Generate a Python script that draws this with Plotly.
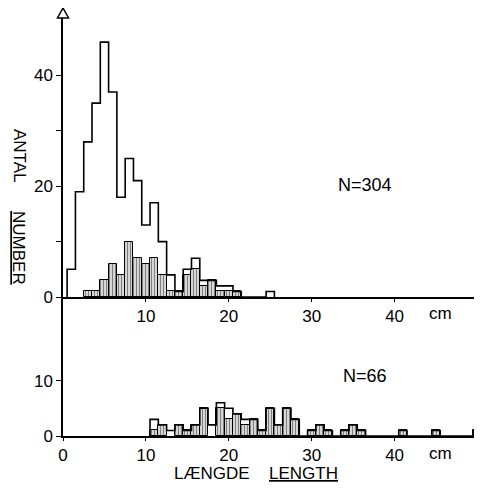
import plotly.graph_objects as go

# ---- data (bins centred on whole cm) ----
top_bins = list(range(1, 26))
top_total = [5, 19, 28, 35, 46, 37, 18, 25, 21, 13, 17, 10, 4, 1, 5, 7, 3, 3, 2, 2, 1, 0, 0, 0, 1]
top_hatched = [0, 0, 1, 1, 3, 6, 4, 10, 7, 6, 7, 4, 1, 1, 4, 5, 2, 3, 1, 1, 1, 0, 0, 0, 0]

bottom_bins = list(range(11, 51))
bottom_total = [3, 2, 1, 2, 1, 2, 5, 2, 6, 5,
                4, 3, 3, 1, 5, 2, 5, 3, 0, 1,
                2, 1, 0, 1, 2, 1, 0, 0, 0, 0,
                1, 0, 0, 0, 1, 0, 0, 0, 0, 1]
bottom_hatched = [1, 2, 0, 2, 1, 2, 5, 0, 5, 3,
                  4, 2, 3, 1, 5, 2, 5, 3, 0, 1,
                  2, 1, 0, 1, 2, 1, 0, 0, 0, 0,
                  1, 0, 0, 0, 1, 0, 0, 0, 0, 1]

top_yticks = [0, 10, 20, 30, 40]
top_yticktext = ["0", "", "20", "", "40"]
bottom_yticks = [0, 10]
top_xticks = [10, 20, 30, 40]
bottom_xticks = [0, 10, 20, 30, 40]

# ---- layout geometry (page has an 8px body margin) ----
OFF = 8
W, H = 482 - OFF, 490 - OFF
L, R, T, B = 63 - OFF, 0, 18 - OFF, 490 - 436
PW, PH = W - L - R, H - T - B
split = (436 - 297) / PH
XMAX = PW / 8.29
TOP_YMAX = (297 - 18) / 5.54
BOT_YMAX = (436 - 297) / 5.54

FONT = "Liberation Sans, Arial, sans-serif"


def px(xp):
    return (xp - OFF - L) / PW


def py(yp):
    return (H - B - (yp - OFF)) / PH


def step(bins, vals):
    xs = [bins[0] - 0.5]
    ys = [0]
    for b, v in zip(bins, vals):
        xs.append(b - 0.5)
        ys.append(v)
    xs.append(bins[-1] + 0.5)
    ys.append(0)
    return xs, ys


def hatched_bar(bins, vals, xa, ya):
    xb = [b for b, v in zip(bins, vals) if v > 0]
    yb = [v for v in vals if v > 0]
    return go.Bar(
        x=xb, y=yb, width=1.0, xaxis=xa, yaxis=ya,
        marker=dict(color="white",
                    line=dict(color="black", width=1),
                    pattern=dict(shape="|", fgcolor="black", bgcolor="white",
                                 size=3, solidity=0.55)),
        showlegend=False, hoverinfo="skip")


fig = go.Figure()

sx, sy = step(top_bins, top_total)
fig.add_trace(hatched_bar(top_bins, top_hatched, "x", "y"))
fig.add_trace(go.Scatter(x=sx, y=sy, mode="lines", line=dict(color="black", width=1.6, shape="hv"),
                         xaxis="x", yaxis="y", showlegend=False, hoverinfo="skip"))

bx, by = step(bottom_bins, bottom_total)
fig.add_trace(hatched_bar(bottom_bins, bottom_hatched, "x2", "y2"))
fig.add_trace(go.Scatter(x=bx, y=by, mode="lines", line=dict(color="black", width=1.6, shape="hv"),
                         xaxis="x2", yaxis="y2", showlegend=False, hoverinfo="skip"))

axis_common = dict(showgrid=False, zeroline=False, showline=True, linecolor="black", linewidth=1.5,
                   ticks="outside", tickcolor="black", tickfont=dict(family=FONT, size=17, color="black"))

fig.update_layout(
    width=W, height=H, margin=dict(l=L, r=R, t=T, b=B, pad=0),
    paper_bgcolor="white", plot_bgcolor="white", barmode="overlay", bargap=0,
    font=dict(family=FONT, color="black"),
    xaxis=dict(axis_common, range=[0, XMAX], anchor="y", tickvals=top_xticks, ticklen=3, tickwidth=1),
    yaxis=dict(axis_common, range=[0, TOP_YMAX], domain=[split, 1], anchor="x",
               tickvals=top_yticks, ticktext=top_yticktext, ticklen=5, tickwidth=1),
    xaxis2=dict(axis_common, range=[0, XMAX], anchor="y2", tickvals=bottom_xticks, ticklen=3, tickwidth=1),
    yaxis2=dict(axis_common, range=[0, BOT_YMAX], domain=[0, split], anchor="x2",
                tickvals=bottom_yticks, ticklen=5, tickwidth=1),
)

# open arrow head on top of the y axis (paper refs so it is not clipped)
fig.add_shape(type="path", xref="paper", yref="paper", xsizemode="pixel", ysizemode="pixel",
              xanchor=0, yanchor=1, path="M-5.5,0 L5.5,0 L0,10 Z",
              fillcolor="white", line=dict(color="black", width=1.5), layer="above")

ann = []


def add_text(text, xp, yp, size=17, angle=0):
    ann.append(dict(text=text, x=px(xp), y=py(yp), xref="paper", yref="paper",
                    showarrow=False, textangle=angle, xanchor="center", yanchor="middle",
                    font=dict(family=FONT, size=size, color="black")))


add_text("N=304", 365, 185, 18)
add_text("N=66", 365, 376, 18)
add_text("cm", 440, 313, 17)
add_text("cm", 440, 453, 17)
add_text("LÆNGDE", 212, 473, 17)
add_text("<u>LENGTH</u>", 303, 473, 17)
add_text("ANTAL", 19, 156, 17, 90)
add_text("<u>NUMBER</u>", 19, 248, 17, 90)

fig.update_layout(annotations=ann)

fig.write_html("out.html")
